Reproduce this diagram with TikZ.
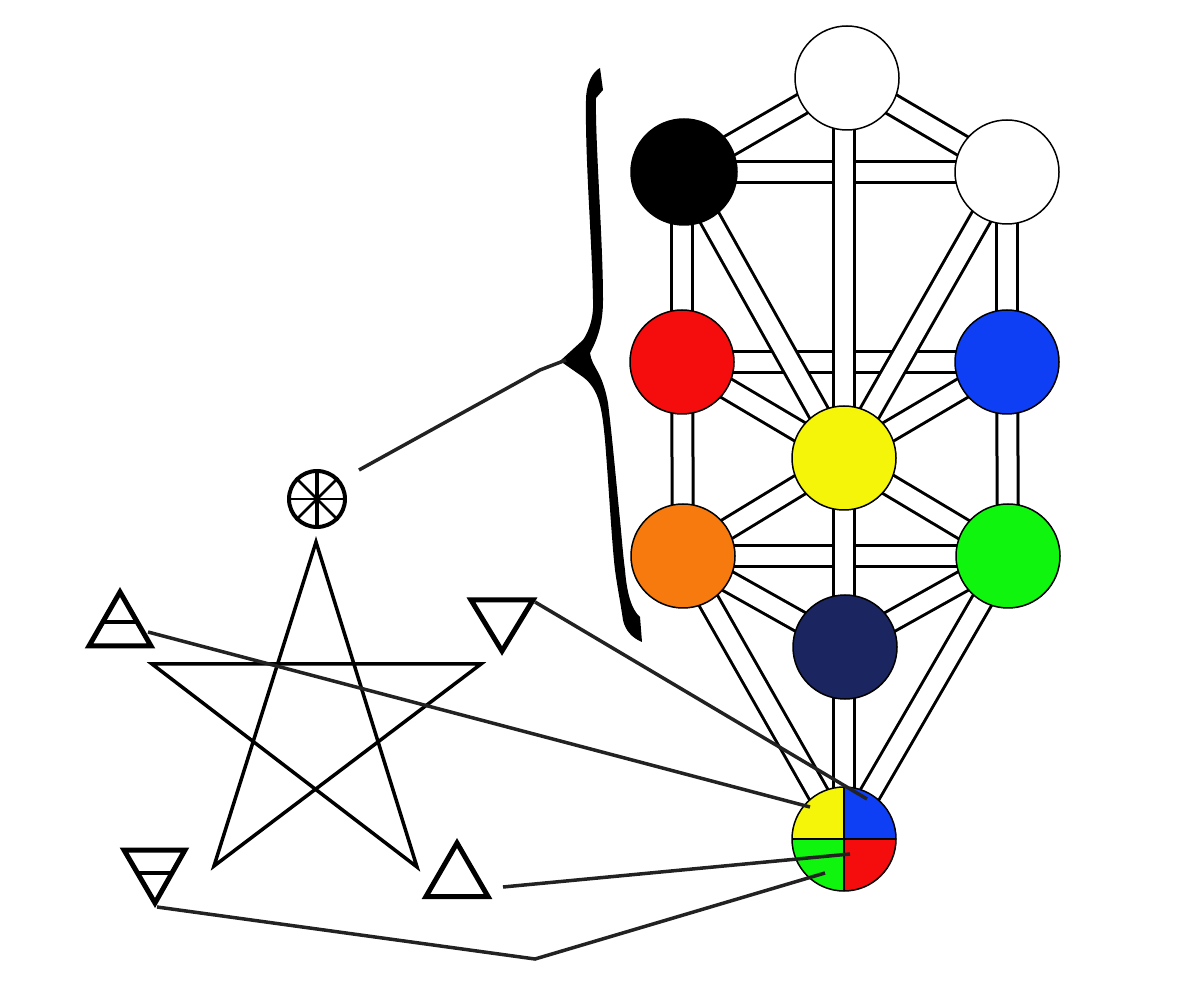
\documentclass[tikz,border=0pt]{standalone}
\pgfdeclarelayer{pathlayer}
\pgfsetlayers{pathlayer,main}
\definecolor{sefred}{HTML}{F50D0D}
\definecolor{sefblue}{HTML}{0F3FF5}
\definecolor{sefyellow}{HTML}{F5F50A}
\definecolor{seforange}{HTML}{F77A0E}
\definecolor{sefgreen}{HTML}{10F50E}
\definecolor{sefnavy}{HTML}{1B2560}
\definecolor{linkgray}{HTML}{222222}
\tikzset{
  sefira/.style={circle, draw=black, line width=1.5pt, minimum size=104pt, inner sep=0pt},
  pathway/.style={line width=3pt, double=white, double distance=18pt},
  element/.style={line width=5pt, line join=miter},
  starline/.style={line width=3.5pt, line join=miter},
  linkline/.style={line width=3.5pt, draw=linkgray},
}
\begin{document}
\begin{tikzpicture}[x=1pt, y=1pt]
\useasboundingbox (0,0) rectangle (1182,980);

% tree
\node[sefira, fill=white] (crown) at (847,902) {};
\node[sefira, fill=black, minimum size=106pt] (wisdom) at (684,808) {};
\node[sefira, fill=white] (insight) at (1007,808) {};
\node[sefira, fill=sefred] (mercy) at (682,618) {};
\node[sefira, fill=sefblue] (might) at (1007,618) {};
\node[sefira, fill=sefyellow] (heart) at (844,522) {};
\node[sefira, fill=seforange] (glory) at (683,424) {};
\node[sefira, fill=sefgreen] (victory) at (1008,424) {};
\node[sefira, fill=sefnavy] (base) at (845,333) {};
\node[sefira, path picture={
    \fill[sefyellow] (path picture bounding box.center) rectangle (path picture bounding box.north west);
    \fill[sefblue] (path picture bounding box.center) rectangle (path picture bounding box.north east);
    \fill[sefgreen] (path picture bounding box.center) rectangle (path picture bounding box.south west);
    \fill[sefred] (path picture bounding box.center) rectangle (path picture bounding box.south east);
    \draw[line width=1.5pt] (path picture bounding box.north) -- (path picture bounding box.south);
    \draw[line width=1.5pt] (path picture bounding box.west) -- (path picture bounding box.east);
  }] (realm) at (844,141) {};

\begin{pgfonlayer}{pathlayer}
\foreach \a/\b in {wisdom/insight, mercy/might, glory/victory}{
    \draw[pathway] (\a.center) -- (\b.center);
}
\foreach \a/\b in {crown/wisdom, crown/insight, mercy/glory, insight/might, might/victory,
                   mercy/heart, might/heart, glory/heart, victory/heart,
                   wisdom/heart, insight/heart, glory/base, victory/base, glory/realm, victory/realm}{
    \draw[pathway] (\a.center) -- (\b.center);
}
\draw[pathway] (mercy.center |- wisdom.center) -- (mercy.center);
\draw[pathway] (heart.center |- crown.center) -- (heart.center);
\draw[pathway] (heart.center) -- (realm.center);
\end{pgfonlayer}

% brace
\fill[black] (600,912) -- (603,890) -- (596,882)
  .. controls (595,840) and (603,740) .. (603,680)
  .. controls (603,655) and (597,640) .. (590,627)
  .. controls (592,612) and (602,610) .. (608,577)
  .. controls (612,545) and (617,490) .. (620,460)
  .. controls (622,440) and (623,425) .. (625,410)
  .. controls (627,385) and (632,370) .. (640,363)
  -- (642,338)
  .. controls (632,342) and (625,350) .. (623,360)
  .. controls (620,380) and (617,395) .. (615,410)
  .. controls (612,435) and (609,490) .. (605,540)
  .. controls (602,570) and (600,590) .. (583,603)
  -- (560,619) -- (583,640)
  .. controls (590,650) and (594,665) .. (593,680)
  .. controls (592,740) and (585,820) .. (586,880)
  .. controls (586,895) and (592,908) .. (600,912) -- cycle;
\coordinate (bracetip) at (566,620);

% wheel
\node[circle, draw=black, line width=4pt, minimum size=56pt, inner sep=0pt] (wheel) at (317,481) {};
\draw[line width=3.5pt] (wheel.north) -- (wheel.south);
\foreach \ang in {0,45,135,180,225,315}{
    \draw[line width=2.5pt] (wheel.center) -- (wheel.\ang);
}

% star
\coordinate (ptop) at (316,438);
\coordinate (pright) at (481,316);
\coordinate (pleft) at (152,316);
\coordinate (plowl) at (214,114);
\coordinate (plowr) at (417,113);
\draw[starline] (ptop) -- (plowr) -- (pleft) -- (pright) -- (plowl) -- cycle;

% elements
\coordinate (airtop) at (120,388);
\coordinate (waterlow) at (502,329);
\coordinate (firetop) at (457,137);
\coordinate (earthlow) at (155,77);
\draw[element] (airtop) -- (89,334) -- (151,334) -- cycle;
\draw[line width=4pt] (103,358) -- (137,358);
\draw[element] (471,380) -- (533,380) -- (waterlow) -- cycle;
\draw[element] (firetop) -- (426,83.5) -- (488,83.5) -- cycle;
\draw[element] (124,130) -- (185,130) -- (earthlow) -- cycle;
\draw[line width=4pt] (137.5,107) -- (172,107);

% links
\coordinate (wheelout) at (359,510);
\coordinate (airout) at (148,348);
\coordinate (waterout) at (535,378);
\coordinate (fireout) at (503,93);
\coordinate (earthout) at (157,73);
\coordinate (earthbend) at (535,21);
\coordinate (airin) at (810,173);
\coordinate (waterin) at (867,181);
\coordinate (firein) at (850,126);
\coordinate (earthin) at (825,107);
\draw[linkline] (wheelout) -- (540,610) -- (bracetip);
\draw[linkline] (airout) -- (airin);
\draw[linkline] (waterout) -- (waterin);
\draw[linkline] (fireout) -- (firein);
\draw[linkline] (earthout) -- (earthbend) -- (earthin);
\end{tikzpicture}
\end{document}
